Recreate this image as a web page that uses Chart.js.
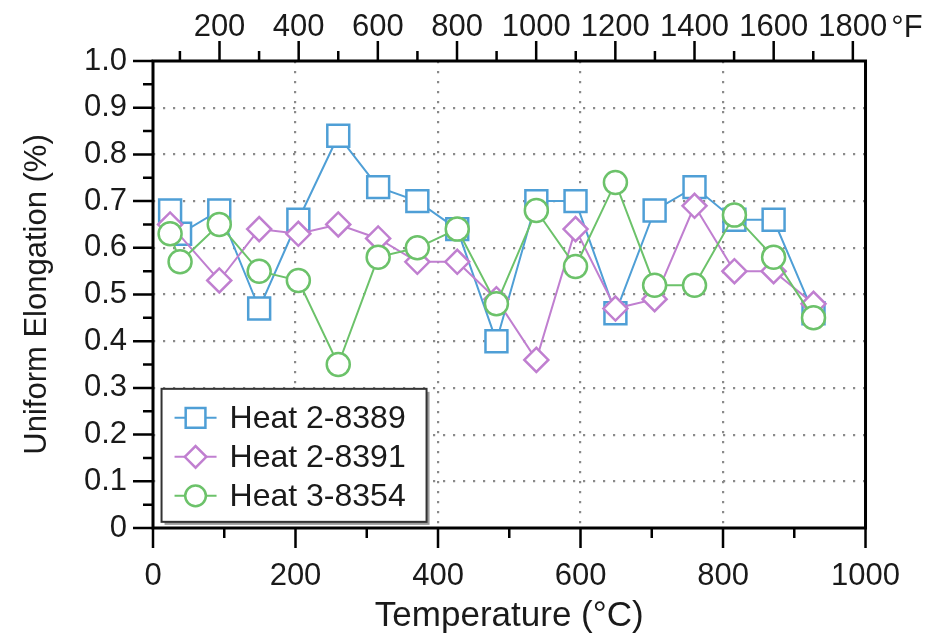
<!DOCTYPE html>
<html><head><meta charset="utf-8">
<script src="https://cdn.jsdelivr.net/npm/chart.js@4/dist/chart.umd.min.js"></script>
<style>html,body{margin:0;padding:0;background:#fff;overflow:hidden}#wrap{width:930px;height:643px;position:relative}</style>
</head><body><div id="wrap"><canvas id="c" width="930" height="643"></canvas></div>
<script>
// ---- data ----
const temperaturesC = [24, 38, 93, 149, 204, 260, 316, 371, 427, 482, 538, 593, 649, 704, 760, 816, 871, 927];
const heat28389 = [0.68, 0.63, 0.68, 0.47, 0.66, 0.84, 0.73, 0.70, 0.64, 0.40, 0.70, 0.70, 0.46, 0.68, 0.73, 0.66, 0.66, 0.46];
const heat28391 = [0.65, null, 0.53, 0.64, 0.63, 0.65, 0.62, 0.57, 0.57, 0.49, 0.36, 0.64, 0.47, 0.49, 0.69, 0.55, 0.55, 0.48];
const heat38354 = [0.63, 0.57, 0.65, 0.55, 0.53, 0.35, 0.58, 0.60, 0.64, 0.48, 0.68, 0.56, 0.74, 0.52, 0.52, 0.67, 0.58, 0.45];
const seriesNames = ['Heat 2-8389', 'Heat 2-8391', 'Heat 3-8354'];
const xMajorTicks = [0, 200, 400, 600, 800, 1000];
const xMinorTicks = [100, 300, 500, 700, 900];
const yMajorTicks = [0, 0.1, 0.2, 0.3, 0.4, 0.5, 0.6, 0.7, 0.8, 0.9, 1.0];
const yMinorTicks = [0.05, 0.15, 0.25, 0.35, 0.45, 0.55, 0.65, 0.75, 0.85, 0.95];
const fMajorTicks = [200, 400, 600, 800, 1000, 1200, 1400, 1600, 1800];
const fMinorTicks = [100, 300, 500, 700, 900, 1100, 1300, 1500, 1700];
const fUnitLabel = '°F';
const xTitle = 'Temperature (°C)';
const yTitle = 'Uniform Elongation (%)';

// ---- styles ----
const FONT = '"Liberation Sans", Arial, Helvetica, sans-serif';
const NARROW = '"Liberation Sans Narrow", "Arial Narrow", "Liberation Sans", sans-serif';
const TICK_FONT = {family: NARROW, size: 31};
const XTITLE_FONT = {family: FONT, size: 35};
const YTITLE_FONT = {family: FONT, size: 31};
const LEGEND_SIZE = 32;
const TEXT = '#1a1a1a';
const GRID = '#8a8a8a';
const COLORS = ['#4f9fd6', '#c07fd0', '#6cc26a'];
const STYLES = ['rect', 'rectRot', 'circle'];
const RADII = [15.5, 12, 11.5];

const toPts = arr => temperaturesC.map((t, i) => ({x: t, y: arr[i]}));
const seriesData = [heat28389, heat28391, heat38354];

const datasets = seriesData.map((arr, i) => ({
  label: seriesNames[i],
  data: toPts(arr),
  borderColor: COLORS[i],
  backgroundColor: '#ffffff',
  borderWidth: 2,
  pointStyle: STYLES[i],
  pointRadius: RADII[i],
  pointBorderWidth: 2.5,
  pointBackgroundColor: '#ffffff',
  pointBorderColor: COLORS[i],
  spanGaps: true,
  tension: 0,
  order: 3 - i
}));

const c2f = c => c * 9 / 5 + 32;

const decorPlugin = {
  id: 'decor',
  afterDatasetsDraw(chart) {
    const ctx = chart.ctx;
    const a = chart.chartArea;
    const sx = chart.scales.x, sy = chart.scales.y, sf = chart.scales.xF;
    ctx.save();
    ctx.strokeStyle = '#000';
    ctx.lineWidth = 2.5;
    ctx.lineCap = 'butt';
    const MAJ = 20, MIN = 10;
    ctx.beginPath();
    xMajorTicks.forEach(v => { const p = sx.getPixelForValue(v); ctx.moveTo(p, a.bottom); ctx.lineTo(p, a.bottom + MAJ); });
    xMinorTicks.forEach(v => { const p = sx.getPixelForValue(v); ctx.moveTo(p, a.bottom); ctx.lineTo(p, a.bottom + MIN); });
    yMajorTicks.forEach(v => { const p = sy.getPixelForValue(v); ctx.moveTo(a.left, p); ctx.lineTo(a.left - MAJ, p); });
    yMinorTicks.forEach(v => { const p = sy.getPixelForValue(v); ctx.moveTo(a.left, p); ctx.lineTo(a.left - MIN, p); });
    fMajorTicks.forEach(v => { const p = sf.getPixelForValue(v); ctx.moveTo(p, a.top); ctx.lineTo(p, a.top - MAJ); });
    fMinorTicks.forEach(v => { const p = sf.getPixelForValue(v); ctx.moveTo(p, a.top); ctx.lineTo(p, a.top - MIN); });
    ctx.stroke();
    // frame
    ctx.lineWidth = 3;
    ctx.strokeRect(a.left, a.top, a.right - a.left, a.bottom - a.top);
    // °F unit label
    ctx.fillStyle = TEXT;
    ctx.font = TICK_FONT.size + 'px ' + NARROW;
    ctx.textAlign = 'left';
    ctx.textBaseline = 'middle';
    const last = fMajorTicks[fMajorTicks.length - 1];
    const lastW = ctx.measureText(String(last)).width;
    ctx.fillText(fUnitLabel, sf.getPixelForValue(last) + lastW / 2 + 4, 28);

    // legend
    const lx = sx.getPixelForValue(12), ly = sy.getPixelForValue(0.298);
    const lw = 265, lh = 133;
    ctx.fillStyle = '#9a9a9a';
    ctx.fillRect(lx + 3, ly + 3, lw, lh);
    ctx.fillStyle = '#fff';
    ctx.fillRect(lx, ly, lw, lh);
    ctx.strokeStyle = '#333';
    ctx.lineWidth = 2;
    ctx.strokeRect(lx, ly, lw, lh);
    ctx.font = LEGEND_SIZE + 'px ' + FONT;
    chart.data.datasets.forEach((ds, i) => {
      const cy = ly + 29 + i * 39;
      const mx = lx + 34;
      ctx.strokeStyle = ds.borderColor;
      ctx.lineWidth = ds.borderWidth;
      ctx.beginPath(); ctx.moveTo(lx + 13, cy); ctx.lineTo(lx + 55, cy); ctx.stroke();
      ctx.fillStyle = '#fff';
      ctx.lineWidth = ds.pointBorderWidth;
      Chart.helpers.drawPoint(ctx, {pointStyle: ds.pointStyle, radius: ds.pointRadius * 0.9, rotation: 0, borderWidth: ds.pointBorderWidth}, mx, cy);
      ctx.fillStyle = TEXT;
      ctx.textAlign = 'left';
      ctx.textBaseline = 'middle';
      ctx.fillText(ds.label, lx + 68, cy + 1);
    });
    ctx.restore();
  }
};

const gridColorX = c => (c.tick && c.tick.value > 0 && c.tick.value < 1000) ? GRID : 'rgba(0,0,0,0)';
const gridColorY = c => (c.tick && c.tick.value > 0.001 && c.tick.value < 0.999) ? GRID : 'rgba(0,0,0,0)';

new Chart(document.getElementById('c'), {
  type: 'line',
  data: {datasets},
  options: {
    responsive: false,
    animation: false,
    devicePixelRatio: 1,
    layout: {padding: {left: 0, right: 64, top: 0, bottom: 0}},
    plugins: {legend: {display: false}, tooltip: {enabled: false}},
    scales: {
      x: {
        type: 'linear', position: 'bottom', min: 0, max: 1000,
        afterBuildTicks: s => { s.ticks = xMajorTicks.map(v => ({value: v})); },
        afterFit: s => { s.height = 115; },
        ticks: {font: TICK_FONT, color: TEXT, padding: 30, maxRotation: 0, autoSkip: false,
          callback: v => String(v)},
        grid: {color: gridColorX, lineWidth: 2.2, drawTicks: false},
        border: {display: false, dash: [2.2, 7.8]},
        title: {display: true, text: xTitle, font: XTITLE_FONT, color: TEXT, padding: {top: 0, bottom: 6}}
      },
      xF: {
        type: 'linear', position: 'top', min: c2f(0), max: c2f(1000),
        afterBuildTicks: s => { s.ticks = fMajorTicks.map(v => ({value: v})); },
        afterFit: s => { s.height = 61; },
        ticks: {font: TICK_FONT, color: TEXT, padding: 15, maxRotation: 0, autoSkip: false,
          callback: v => String(v)},
        grid: {drawOnChartArea: false, drawTicks: false},
        border: {display: false}
      },
      y: {
        type: 'linear', position: 'left', min: 0, max: 1,
        afterBuildTicks: s => { s.ticks = yMajorTicks.map(v => ({value: v})); },
        afterFit: s => { s.width = 153; },
        ticks: {font: TICK_FONT, color: TEXT, padding: 26, autoSkip: false,
          callback: v => (Math.abs(v) < 1e-9 ? '0' : v.toFixed(1))},
        grid: {color: gridColorY, lineWidth: 2.2, drawTicks: false},
        border: {display: false, dash: [2.2, 7.8]},
        title: {display: true, text: yTitle, font: YTITLE_FONT, color: TEXT, padding: {top: 19, bottom: 0}}
      }
    }
  },
  plugins: [decorPlugin]
});
</script>
</body></html>
